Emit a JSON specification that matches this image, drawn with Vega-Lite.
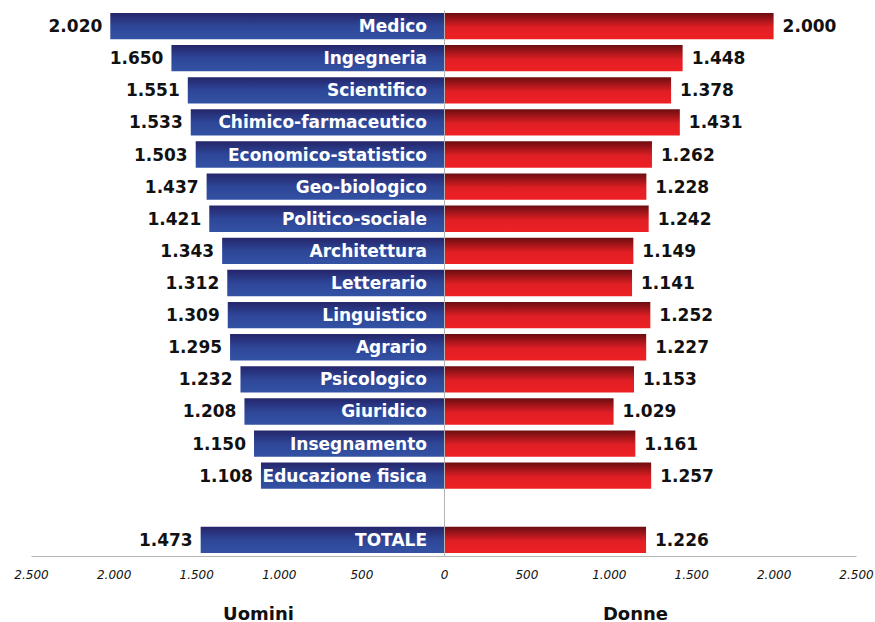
{
  "$schema": "https://vega.github.io/schema/vega-lite/v6.json",
  "padding": {"left": 13, "top": 10, "right": 0, "bottom": 0},
  "background": "white",
  "config": {
    "view": {"stroke": null},
    "locale": {"number": {"decimal": ",", "thousands": ".", "grouping": [3], "currency": ["€", ""]}},
    "font": "DejaVu Sans"
  },
  "data": {
    "values": [
      {"cat": "Medico", "uomini": 2020, "donne": 2000},
      {"cat": "Ingegneria", "uomini": 1650, "donne": 1448},
      {"cat": "Scientifico", "uomini": 1551, "donne": 1378},
      {"cat": "Chimico-farmaceutico", "uomini": 1533, "donne": 1431},
      {"cat": "Economico-statistico", "uomini": 1503, "donne": 1262},
      {"cat": "Geo-biologico", "uomini": 1437, "donne": 1228},
      {"cat": "Politico-sociale", "uomini": 1421, "donne": 1242},
      {"cat": "Architettura", "uomini": 1343, "donne": 1149},
      {"cat": "Letterario", "uomini": 1312, "donne": 1141},
      {"cat": "Linguistico", "uomini": 1309, "donne": 1252},
      {"cat": "Agrario", "uomini": 1295, "donne": 1227},
      {"cat": "Psicologico", "uomini": 1232, "donne": 1153},
      {"cat": "Giuridico", "uomini": 1208, "donne": 1029},
      {"cat": "Insegnamento", "uomini": 1150, "donne": 1161},
      {"cat": "Educazione fisica", "uomini": 1108, "donne": 1257},
      {"cat": "TOTALE", "uomini": 1473, "donne": 1226}
    ]
  },
  "hconcat": [
    {
      "width": 413,
      "height": 546,
      "encoding": {
        "y": {
          "field": "cat",
          "type": "nominal",
          "sort": null,
          "scale": {
            "domain": ["Medico", "Ingegneria", "Scientifico", "Chimico-farmaceutico", "Economico-statistico", "Geo-biologico", "Politico-sociale", "Architettura", "Letterario", "Linguistico", "Agrario", "Psicologico", "Giuridico", "Insegnamento", "Educazione fisica", " ", "TOTALE"],
            "paddingInner": 0.18,
            "paddingOuter": 0.09
          },
          "axis": null
        }
      },
      "layer": [
        {
          "mark": {
            "type": "bar",
            "fill": {
              "gradient": "linear", "x1": 0, "y1": 0, "x2": 0, "y2": 1,
              "stops": [
                {"offset": 0, "color": "#25256a"},
                {"offset": 0.5, "color": "#2e4697"},
                {"offset": 1, "color": "#3352a4"}
              ]
            }
          },
          "encoding": {
            "x": {
              "field": "uomini",
              "type": "quantitative",
              "scale": {"domain": [0, 2500], "reverse": true, "nice": false},
              "axis": {
                "values": [500, 1000, 1500, 2000, 2500],
                "format": ",d",
                "title": "Uomini",
                "titleFont": "DejaVu Sans",
                "titleFontSize": 18,
                "titleFontWeight": "bold",
                "titleColor": "#111111",
                "titleX": 227,
                "titleY": 63,
                "titleBaseline": "alphabetic",
                "titleAlign": "center",
                "labelFont": "DejaVu Sans",
                "labelFontStyle": "italic",
                "labelFontSize": 12,
                "labelColor": "#111111",
                "labelPadding": 13,
                "labelFlush": false,
                "labelOverlap": false,
                "ticks": false,
                "grid": false,
                "domainColor": "#b3b3b3"
              }
            }
          }
        },
        {
          "mark": {"type": "text", "align": "right", "baseline": "middle", "dx": -8, "dy": 1, "fontSize": 17, "fontWeight": "bold", "color": "#111111"},
          "encoding": {
            "x": {"field": "uomini", "type": "quantitative"},
            "text": {"field": "uomini", "type": "quantitative", "format": ",d"}
          }
        },
        {
          "mark": {"type": "text", "align": "right", "baseline": "middle", "dx": -17, "dy": 1, "fontSize": 17, "fontWeight": "bold", "color": "white"},
          "encoding": {
            "x": {"datum": 0, "type": "quantitative"},
            "text": {"field": "cat", "type": "nominal"}
          }
        }
      ]
    },
    {
      "width": 412,
      "height": 546,
      "encoding": {
        "y": {
          "field": "cat",
          "type": "nominal",
          "sort": null,
          "scale": {
            "domain": ["Medico", "Ingegneria", "Scientifico", "Chimico-farmaceutico", "Economico-statistico", "Geo-biologico", "Politico-sociale", "Architettura", "Letterario", "Linguistico", "Agrario", "Psicologico", "Giuridico", "Insegnamento", "Educazione fisica", " ", "TOTALE"],
            "paddingInner": 0.18,
            "paddingOuter": 0.09
          },
          "axis": {"title": null, "labels": false, "ticks": false, "grid": false, "domain": true, "domainColor": "#b3b3b3", "zindex": 1}
        }
      },
      "layer": [
        {
          "mark": {
            "type": "bar",
            "fill": {
              "gradient": "linear", "x1": 0, "y1": 0, "x2": 0, "y2": 1,
              "stops": [
                {"offset": 0, "color": "#6b0d10"},
                {"offset": 0.55, "color": "#e01f25"},
                {"offset": 1, "color": "#ee2024"}
              ]
            }
          },
          "encoding": {
            "x": {
              "field": "donne",
              "type": "quantitative",
              "scale": {"domain": [0, 2500], "nice": false},
              "axis": {
                "values": [0, 500, 1000, 1500, 2000, 2500],
                "format": ",d",
                "title": "Donne",
                "titleFont": "DejaVu Sans",
                "titleFontSize": 18,
                "titleFontWeight": "bold",
                "titleColor": "#111111",
                "titleX": 191,
                "titleY": 63,
                "titleBaseline": "alphabetic",
                "titleAlign": "center",
                "labelFont": "DejaVu Sans",
                "labelFontStyle": "italic",
                "labelFontSize": 12,
                "labelColor": "#111111",
                "labelPadding": 13,
                "labelFlush": false,
                "labelOverlap": false,
                "ticks": false,
                "grid": false,
                "domainColor": "#b3b3b3"
              }
            }
          }
        },
        {
          "mark": {"type": "text", "align": "left", "baseline": "middle", "dx": 9, "dy": 1, "fontSize": 17, "fontWeight": "bold", "color": "#111111"},
          "encoding": {
            "x": {"field": "donne", "type": "quantitative"},
            "text": {"field": "donne", "type": "quantitative", "format": ",d"}
          }
        }
      ]
    }
  ],
  "spacing": 0,
  "bounds": "flush",
  "resolve": {"scale": {"x": "independent"}}
}
